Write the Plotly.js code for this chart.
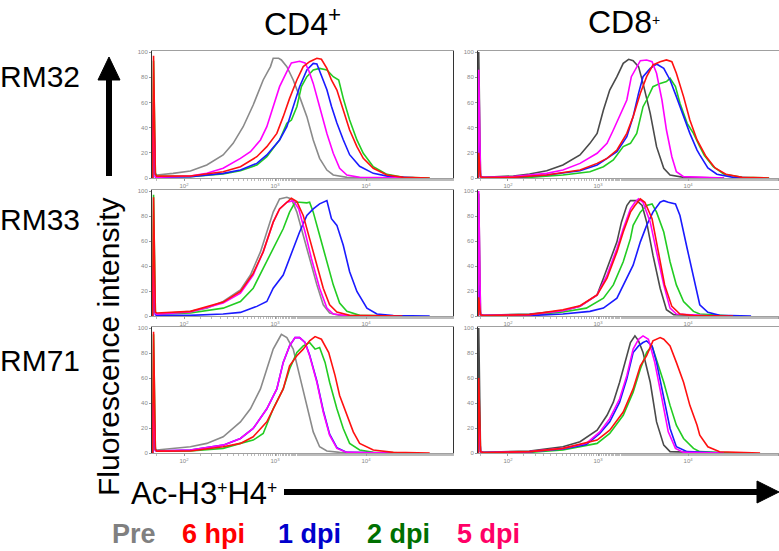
<!DOCTYPE html>
<html>
<head>
<meta charset="utf-8">
<script src="https://cdn.plot.ly/plotly-3.0.1.min.js"></script>
<style>html,body{margin:0;padding:0;background:#fff;}#chart{width:779px;height:551px;}</style>
</head>
<body>
<div id="chart"></div>
<script>
// ---- Data: x = log10(fluorescence), y = % of max ----
// Panel CD4 / RM32
const cd4_rm32_pre_x = [1.655,1.665,1.685,1.70,1.88,2.07,2.25,2.43,2.54,2.65,2.76,2.87,2.95,2.98,3.04,3.07,3.13,3.20,3.27,3.35,3.42,3.49,3.57,3.64,3.79,4.08,4.5];
const cd4_rm32_pre_y = [0,30,3,2.4,3.7,5.6,10.3,18.3,27.5,40.7,57.9,77.8,88.4,95.0,95.0,93.7,88.4,77.8,64.6,48.7,30.2,15.6,6.3,2.4,0.5,0,0];
const cd4_rm32_d5_x = [1.655,1.665,1.685,1.70,2.07,2.25,2.43,2.62,2.73,2.84,2.91,2.98,3.05,3.13,3.18,3.27,3.33,3.37,3.42,3.49,3.57,3.64,3.71,3.79,3.93,4.5];
const cd4_rm32_d5_y = [0,60,1,0.5,1.6,3.7,7.7,15.6,20.9,30.2,40.7,56.6,72.5,84.4,91.3,92.6,91.3,85.4,75.1,56.6,35.4,19.6,7.7,2.4,0.5,0];
const cd4_rm32_d1_x = [1.655,1.665,1.685,1.70,2.07,2.43,2.62,2.80,2.91,3.05,3.13,3.20,3.27,3.35,3.42,3.46,3.51,3.57,3.62,3.68,3.75,3.82,3.93,4.08,4.26,4.6];
const cd4_rm32_d1_y = [0,50,1,0.5,1.1,3.7,6.3,11.6,18.3,30.2,40.7,56.6,72.5,85.7,91.0,90.5,80.7,70.1,56.9,43.7,30.4,18.5,9.3,3.7,1.1,0];
const cd4_rm32_d2_x = [1.655,1.665,1.685,1.70,2.07,2.43,2.62,2.80,2.91,3.05,3.13,3.18,3.24,3.29,3.35,3.42,3.49,3.57,3.64,3.70,3.75,3.82,3.90,3.97,4.08,4.23,4.41,4.7];
const cd4_rm32_d2_y = [0,93,4,1.5,1.1,3.2,5.8,10.3,16.9,30.2,43.4,46.0,56.6,72.5,80.4,85.7,87.0,85.7,80.4,77.8,63.2,46.0,30.2,19.6,9.0,2.9,0.5,0];
const cd4_rm32_h6_x = [1.655,1.665,1.685,1.70,2.07,2.43,2.62,2.80,2.91,3.02,3.09,3.16,3.24,3.31,3.38,3.46,3.51,3.57,3.62,3.68,3.75,3.82,3.90,3.97,4.08,4.23,4.41,4.7];
const cd4_rm32_h6_y = [0,97,3,1.5,1.6,5.0,9.0,16.9,24.9,35.4,48.7,63.2,77.8,88.4,92.3,95.0,94.2,87.0,77.8,69.8,54.0,38.1,24.9,15.6,7.7,2.4,0.5,0];

// Panel CD8 / RM32
const cd8_rm32_pre_x = [1.668,1.675,1.695,1.73,2.06,2.24,2.43,2.61,2.80,2.91,2.99,3.06,3.13,3.21,3.28,3.34,3.39,3.45,3.50,3.58,3.65,3.73,3.80,3.95,4.4];
const cd8_rm32_pre_y = [0,100,1,0.5,1.6,3.2,5.8,10.3,18.3,27.5,35.4,54.0,69.8,80.4,91.0,94.2,93.1,88.4,75.1,51.3,24.9,7.7,2.4,0.5,0];
const cd8_rm32_d5_x = [1.668,1.675,1.695,1.73,2.06,2.43,2.61,2.80,2.99,3.10,3.17,3.24,3.32,3.37,3.43,3.47,3.54,3.60,3.65,3.71,3.76,3.82,3.87,3.95,4.4];
const cd8_rm32_d5_y = [0,86,1,0.5,1.1,3.7,6.3,11.6,19.6,27.5,38.1,48.7,61.9,80.4,88.4,93.1,93.7,92.3,83.1,61.9,38.1,16.9,5.0,1.1,0];
const cd8_rm32_d1_x = [1.668,1.675,1.695,1.73,2.06,2.43,2.80,2.99,3.10,3.21,3.32,3.39,3.45,3.50,3.58,3.65,3.73,3.80,3.87,3.95,4.02,4.10,4.13,4.22,4.32,4.5,4.8];
const cd8_rm32_d1_y = [0,37,1,0.3,0.5,2.4,5.8,10.3,15.6,20.9,32.8,48.7,67.2,80.4,87.0,90.5,87.0,77.8,64.6,48.7,35.4,22.2,18.3,8,3,0.5,0];
const cd8_rm32_d2_x = [1.668,1.675,1.695,1.73,2.24,2.61,2.91,3.06,3.17,3.28,3.36,3.43,3.50,3.54,3.61,3.69,3.76,3.80,3.86,3.91,3.99,4.06,4.13,4.18,4.28,4.4,4.6,4.9];
const cd8_rm32_d2_y = [0,20,1,0.3,0.5,2.4,5.0,9.0,14.3,24.9,27.5,35.4,56.6,61.9,72.5,75.1,76.5,79.1,72.5,59.3,43.4,35.4,24.9,18,9,3,0.5,0];
const cd8_rm32_h6_x = [1.668,1.675,1.695,1.73,2.06,2.43,2.80,2.99,3.10,3.21,3.32,3.39,3.47,3.54,3.61,3.69,3.76,3.82,3.87,3.95,4.02,4.10,4.20,4.30,4.42,4.6,4.9];
const cd8_rm32_h6_y = [0,20,1,0.3,0.5,2.4,6.3,11.6,15.6,22.2,35.4,48.7,67.2,80.4,89.7,92.3,93.7,92.3,83.1,64.6,46.0,30.2,17,8,3,0.5,0];

// Panel CD4 / RM33
const cd4_rm33_pre_x = [1.655,1.665,1.685,1.70,2.07,2.25,2.43,2.62,2.73,2.84,2.91,2.98,3.05,3.13,3.18,3.24,3.31,3.38,3.46,3.53,3.60,3.71,4.3];
const cd4_rm33_pre_y = [0,40,2,1.6,3.7,6.3,11.6,20.9,32.8,51.3,67.2,83.1,93.7,95.0,93.7,83.1,64.6,46.0,24.9,9.0,2.4,0.5,0];
const cd4_rm33_d5_x = [1.655,1.665,1.685,1.70,2.07,2.43,2.62,2.76,2.87,2.98,3.05,3.13,3.20,3.26,3.33,3.40,3.49,3.57,3.64,3.79,4.3];
const cd4_rm33_d5_y = [0,40,2,1.5,3.2,10.3,18.3,32.8,51.3,75.1,85.7,91.0,92.3,85.7,67.2,46.0,22.2,6.3,1.6,0.3,0];
const cd4_rm33_d1_x = [1.655,1.665,1.685,1.70,2.07,2.43,2.62,2.80,2.91,2.98,3.09,3.20,3.27,3.35,3.42,3.49,3.53,3.57,3.62,3.68,3.75,3.82,3.90,4.01,4.12,4.30,4.7];
const cd4_rm33_d1_y = [0,30,1,0.5,0.5,1.6,2.9,7.7,11.6,22.2,32.8,54.0,67.2,80.4,85.7,89.7,91.0,92.3,77.8,72.5,56.6,35.4,19.6,6.3,1.6,0.3,0];
const cd4_rm33_d2_x = [1.655,1.665,1.685,1.70,2.07,2.43,2.62,2.76,2.87,2.98,3.09,3.16,3.22,3.27,3.35,3.38,3.42,3.49,3.57,3.64,3.71,3.79,3.93,4.4];
const cd4_rm33_d2_y = [0,97,3,1.5,2.4,6.3,11.6,22.2,38.1,54.0,69.8,83.1,91.0,91.0,90.5,91.0,83.1,64.6,43.4,24.9,10.3,3.7,0.5,0];
const cd4_rm33_h6_x = [1.655,1.665,1.685,1.70,2.07,2.43,2.62,2.76,2.87,2.98,3.05,3.13,3.18,3.24,3.31,3.38,3.46,3.53,3.60,3.68,3.82,4.4];
const cd4_rm33_h6_y = [0,95,3,2.4,3.7,11.1,19.6,34.1,51.3,75.1,85.7,90.5,94.2,91.5,80.4,61.9,40.7,22.2,9.0,3.2,0.5,0];

// Panel CD8 / RM33
const cd8_rm33_pre_x = [1.668,1.675,1.695,1.73,2.24,2.61,2.80,2.99,3.06,3.13,3.21,3.26,3.32,3.36,3.43,3.49,3.54,3.61,3.69,3.76,3.84,4.3];
const cd8_rm33_pre_y = [0,98,1,0.5,1.6,4.2,7.7,16.9,30.2,43.4,59.3,75.1,88.4,92.3,92.3,88.4,75.1,48.7,22.2,5.0,1.1,0];
const cd8_rm33_d5_x = [1.668,1.675,1.695,1.73,2.24,2.61,2.80,2.99,3.10,3.21,3.28,3.36,3.41,3.45,3.50,3.58,3.65,3.73,3.80,3.87,4.3];
const cd8_rm33_d5_y = [0,100,1,0.5,1.1,4.2,7.7,16.9,32.8,54.0,69.8,85.7,91.0,93.7,91.0,75.1,51.3,24.9,6.3,1.6,0];
const cd8_rm33_d1_x = [1.668,1.675,1.695,1.73,2.24,2.61,2.91,3.06,3.21,3.32,3.39,3.47,3.54,3.61,3.69,3.73,3.78,3.86,3.91,3.99,4.06,4.13,4.22,4.35,4.7];
const cd8_rm33_d1_y = [0,25,1,0.3,0.3,1.6,3.7,6.3,14.3,30.2,40.7,59.3,72.5,83.1,91.0,92.3,91.0,89.7,80.4,54.0,30.2,9.0,3,0.5,0];
const cd8_rm33_d2_x = [1.668,1.675,1.695,1.73,2.24,2.61,2.87,3.06,3.17,3.28,3.36,3.39,3.47,3.54,3.60,3.65,3.73,3.80,3.87,3.95,4.06,4.13,4.5];
const cd8_rm33_d2_y = [0,15,1,0.3,0.5,3.2,6.3,14.3,24.9,43.4,61.9,72.5,83.1,88.4,89.7,83.1,67.2,43.4,24.9,11.6,3.7,1.6,0];
const cd8_rm33_h6_x = [1.668,1.675,1.695,1.73,2.24,2.61,2.80,2.99,3.10,3.21,3.28,3.36,3.41,3.47,3.52,3.60,3.67,3.74,3.82,3.91,4.06,4.5];
const cd8_rm33_h6_y = [0,15,1,0.3,1.1,5.0,8.2,16.9,30.2,51.3,67.2,83.1,88.4,93.7,91.0,77.8,51.3,24.9,7.7,1.6,0.3,0];

// Panel CD4 / RM71
const cd4_rm71_pre_x = [1.655,1.665,1.685,1.70,2.07,2.25,2.43,2.62,2.73,2.84,2.91,2.98,3.04,3.07,3.13,3.20,3.27,3.35,3.42,3.49,3.57,3.71,4.3];
const cd4_rm71_pre_y = [0,40,3,2.4,5.0,7.7,13.0,24.9,35.4,51.3,67.2,83.1,91.0,95.0,92.3,83.1,61.9,38.1,16.9,5.0,1.6,0.5,0];
const cd4_rm71_d1_x = [1.655,1.665,1.685,1.70,2.07,2.43,2.62,2.76,2.91,3.02,3.09,3.16,3.22,3.27,3.33,3.38,3.46,3.53,3.60,3.68,3.79,4.3];
const cd4_rm71_d1_y = [0,40,2,1.5,2.4,6.3,11.6,19.6,35.4,51.3,72.5,85.7,92.3,92.3,88.4,78.5,57.5,34.0,15.0,4.2,0.5,0];
const cd4_rm71_d5_x = [1.655,1.665,1.685,1.70,2.07,2.43,2.62,2.76,2.91,3.02,3.09,3.16,3.22,3.27,3.33,3.38,3.46,3.53,3.60,3.68,3.79,4.3];
const cd4_rm71_d5_y = [0,40,2,1.5,2.4,6.3,11.6,19.6,35.4,51.3,72.5,85.7,92.3,92.3,88.4,77.8,56.6,32.8,14.3,3.7,0.5,0];
const cd4_rm71_d2_x = [1.655,1.665,1.685,1.70,2.07,2.43,2.62,2.76,2.87,2.98,3.09,3.16,3.24,3.31,3.38,3.44,3.49,3.55,3.60,3.68,3.75,3.82,3.93,4.08,4.5];
const cd4_rm71_d2_y = [0,95,3,1.5,1.6,3.7,7.7,10.3,15.6,35.4,51.3,67.2,80.4,85.7,88.4,83.1,84.4,72.5,56.6,35.4,19.6,7.7,2.4,0.5,0];
const cd4_rm71_h6_x = [1.655,1.665,1.685,1.70,2.07,2.43,2.62,2.76,2.91,3.02,3.09,3.16,3.24,3.31,3.38,3.44,3.51,3.59,3.66,3.71,3.79,3.86,3.93,4.08,4.30,4.7];
const cd4_rm71_h6_y = [0,97,3,1.5,1.6,5.0,7.7,13.0,24.9,40.7,51.3,69.8,77.8,83.1,89.7,93.1,91.0,80.4,61.9,46.0,30.2,16.9,7.7,2.4,0.5,0];

// Panel CD8 / RM71
const cd8_rm71_pre_x = [1.668,1.675,1.695,1.73,2.24,2.61,2.80,2.99,3.10,3.17,3.24,3.32,3.36,3.41,3.45,3.50,3.58,3.65,3.73,3.80,4.3];
const cd8_rm71_pre_y = [0,100,1,0.5,1.6,5.0,9.0,18.3,30.2,40.7,56.6,77.8,88.4,93.7,89.7,80.4,56.6,24.9,6.3,1.1,0];
const cd8_rm71_d5_x = [1.668,1.675,1.695,1.73,2.24,2.61,2.87,3.02,3.13,3.24,3.32,3.39,3.45,3.50,3.56,3.63,3.71,3.78,3.86,3.95,4.4];
const cd8_rm71_d5_y = [0,30,1,0.3,1.1,3.7,7.7,16.9,27.5,43.4,61.9,83.1,91.0,93.7,91.0,72.5,43.4,16.9,3.7,0.5,0];
const cd8_rm71_d1_x = [1.668,1.675,1.695,1.73,2.24,2.61,2.87,3.02,3.13,3.24,3.32,3.39,3.45,3.50,3.54,3.60,3.65,3.73,3.80,3.87,3.99,4.4];
const cd8_rm71_d1_y = [0,30,1,0.3,1.1,3.2,6.9,15.6,24.9,40.7,59.3,80.4,85.7,88.4,89.7,85.7,72.5,43.4,19.6,5.0,1.1,0];
const cd8_rm71_d2_x = [1.668,1.675,1.695,1.73,2.24,2.61,2.99,3.13,3.28,3.39,3.47,3.54,3.60,3.65,3.73,3.80,3.87,3.95,4.06,4.13,4.5];
const cd8_rm71_d2_y = [0,30,1,0.3,0.5,2.4,7.7,15.6,30.2,48.7,67.2,80.4,85.7,75.1,56.6,38.1,22.2,11.6,3.7,1.1,0];
const cd8_rm71_h6_x = [1.668,1.675,1.695,1.73,2.24,2.61,2.99,3.13,3.28,3.39,3.47,3.54,3.61,3.69,3.73,3.80,3.87,3.95,4.02,4.10,4.13,4.22,4.35,4.8];
const cd8_rm71_h6_y = [0,60,1,0.3,1.1,3.7,10.3,18.3,32.8,51.3,69.8,77.8,89.7,92.3,91.0,85.7,72.5,56.6,38.1,22.2,14.3,5,1,0];

// Labels
const columns = ["CD4<sup>+</sup>", "CD8<span style=\"font-size:20px\"><sup>+</sup></span>"];
const rowsLbl = ["RM32", "RM33", "RM71"];
const xTitle = "Ac-H3<span style=\"font-size:25px\"><sup>+</sup></span>H4<span style=\"font-size:25px\"><sup>+</sup></span>";
const yTitle = "Fluorescence intensity";
const legendLabels = ["Pre", "6 hpi", "1 dpi", "2 dpi", "5 dpi"];
const legendColors = ["#808080", "#ff0000", "#0000cc", "#007000", "#ff0066"];
const xTickVals = [100, 1000, 10000, 100000];
const xTickText = ["10<sup>2</sup>", "10<sup>3</sup>", "10<sup>4</sup>", "10<sup>5</sup>"];
const yTickVals = [0, 20, 40, 60, 80, 100];

// ---- Layout ----
const W = 779, H = 551;
const FONT = "Liberation Sans, Arial, sans-serif";
const colPx = [[152, 453], [478, 779]];
const rowPx = [[51, 178], [190, 316], [327, 453]];
const xRanges = [[1.648, 4.956], [1.667, 5.01]];
const curveColors = {
  pre: ["#8a8a8a", "#4a4a4a"],
  d2: "#22cc22", d1: "#1a1aff", d5: "#ff00ff", h6: "#ff1010"
};

const panelData = [
  [ // row RM32
    {pre:[cd4_rm32_pre_x,cd4_rm32_pre_y], d2:[cd4_rm32_d2_x,cd4_rm32_d2_y], d1:[cd4_rm32_d1_x,cd4_rm32_d1_y], d5:[cd4_rm32_d5_x,cd4_rm32_d5_y], h6:[cd4_rm32_h6_x,cd4_rm32_h6_y]},
    {pre:[cd8_rm32_pre_x,cd8_rm32_pre_y], d2:[cd8_rm32_d2_x,cd8_rm32_d2_y], d1:[cd8_rm32_d1_x,cd8_rm32_d1_y], d5:[cd8_rm32_d5_x,cd8_rm32_d5_y], h6:[cd8_rm32_h6_x,cd8_rm32_h6_y]}
  ],
  [ // row RM33
    {pre:[cd4_rm33_pre_x,cd4_rm33_pre_y], d2:[cd4_rm33_d2_x,cd4_rm33_d2_y], d1:[cd4_rm33_d1_x,cd4_rm33_d1_y], d5:[cd4_rm33_d5_x,cd4_rm33_d5_y], h6:[cd4_rm33_h6_x,cd4_rm33_h6_y]},
    {pre:[cd8_rm33_pre_x,cd8_rm33_pre_y], d2:[cd8_rm33_d2_x,cd8_rm33_d2_y], d1:[cd8_rm33_d1_x,cd8_rm33_d1_y], d5:[cd8_rm33_d5_x,cd8_rm33_d5_y], h6:[cd8_rm33_h6_x,cd8_rm33_h6_y]}
  ],
  [ // row RM71
    {pre:[cd4_rm71_pre_x,cd4_rm71_pre_y], d2:[cd4_rm71_d2_x,cd4_rm71_d2_y], d1:[cd4_rm71_d1_x,cd4_rm71_d1_y], d5:[cd4_rm71_d5_x,cd4_rm71_d5_y], h6:[cd4_rm71_h6_x,cd4_rm71_h6_y]},
    {pre:[cd8_rm71_pre_x,cd8_rm71_pre_y], d2:[cd8_rm71_d2_x,cd8_rm71_d2_y], d1:[cd8_rm71_d1_x,cd8_rm71_d1_y], d5:[cd8_rm71_d5_x,cd8_rm71_d5_y], h6:[cd8_rm71_h6_x,cd8_rm71_h6_y]}
  ]
];

const traces = [];
const layout = {
  width: W, height: H,
  margin: {l: 0, r: 0, t: 0, b: 0},
  paper_bgcolor: "#ffffff", plot_bgcolor: "#ffffff",
  showlegend: false,
  font: {family: FONT, color: "#000"},
  annotations: [], shapes: []
};
const px2x = p => p / W;
const px2y = p => 1 - p / H;

let idx = 0;
for (let r = 0; r < 3; r++) {
  for (let c = 0; c < 2; c++) {
    idx++;
    const sfx = idx === 1 ? "" : String(idx);
    const xa = "x" + sfx, ya = "y" + sfx;
    layout["xaxis" + sfx] = {
      type: "log", range: xRanges[c],
      domain: [px2x(colPx[c][0]), px2x(colPx[c][1])],
      anchor: ya, showgrid: false, zeroline: false,
      showline: true, mirror: true, linecolor: "#a0a0a0", linewidth: 1,
      ticks: "outside", ticklen: 2, tickcolor: "#999",
      tickvals: xTickVals, ticktext: xTickText,
      tickfont: {size: 6, color: "#888"},
      minor: {ticks: "outside", ticklen: 1.5, tickcolor: "#bbb", showgrid: false}
    };
    layout["yaxis" + sfx] = {
      range: [0, 100.8],
      domain: [px2y(rowPx[r][1]), px2y(rowPx[r][0])],
      anchor: xa, showgrid: false, zeroline: false,
      showline: true, mirror: true, linecolor: "#333", linewidth: 1,
      ticks: "outside", ticklen: 2, tickcolor: "#999",
      tickvals: yTickVals, tickfont: {size: 6, color: "#888"}
    };
    const pd = panelData[r][c];
    const order = ["pre", "d2", "d1", "d5", "h6"];
    order.forEach(k => {
      const col = k === "pre" ? curveColors.pre[c] : curveColors[k];
      traces.push({
        type: "scatter", mode: "lines",
        x: pd[k][0].map(v => Math.pow(10, v)), y: pd[k][1],
        xaxis: xa, yaxis: ya,
        line: {color: col, width: 1.6},
        hoverinfo: "skip", cliponaxis: true
      });
    });
  }
}

// Column titles
layout.annotations.push({text: columns[0], xref: "paper", yref: "paper", x: px2x(262), y: px2y(22),
  xanchor: "left", yanchor: "middle", showarrow: false, font: {size: 32, family: FONT}});
layout.annotations.push({text: columns[1], xref: "paper", yref: "paper", x: px2x(586), y: px2y(22),
  xanchor: "left", yanchor: "middle", showarrow: false, font: {size: 32, family: FONT}});
// Row labels
const rowCenters = [76, 220, 360];
rowsLbl.forEach((t, i) => layout.annotations.push({text: t, xref: "paper", yref: "paper",
  x: px2x(-2), y: px2y(rowCenters[i]), xanchor: "left", yanchor: "middle", showarrow: false,
  font: {size: 30, family: FONT}}));
// Y title
layout.annotations.push({text: yTitle, xref: "paper", yref: "paper",
  x: px2x(108), y: px2y(347), xanchor: "center", yanchor: "middle", textangle: -90, showarrow: false,
  font: {size: 30, family: FONT}});
// X title
layout.annotations.push({text: xTitle, xref: "paper", yref: "paper",
  x: px2x(129), y: px2y(493), xanchor: "left", yanchor: "middle", showarrow: false,
  font: {size: 31, family: FONT}});
// Legend text
const legX = [110, 180, 276, 365, 455];
legendLabels.forEach((t, i) => layout.annotations.push({text: "<b>" + t + "</b>", xref: "paper", yref: "paper",
  x: px2x(legX[i]), y: px2y(534), xanchor: "left", yanchor: "middle", showarrow: false,
  font: {size: 27, family: FONT, color: legendColors[i]}}));

// Arrows (decorations)
const P = (x, y) => px2x(x).toFixed(5) + "," + px2y(y).toFixed(5);
layout.shapes.push({type: "line", xref: "paper", yref: "paper", x0: px2x(109), x1: px2x(109), y0: px2y(176), y1: px2y(76),
  line: {color: "#000", width: 6}});
layout.shapes.push({type: "path", xref: "paper", yref: "paper", path: "M" + P(98, 80) + " L" + P(120, 80) + " L" + P(109, 57) + " Z",
  fillcolor: "#000", line: {color: "#000", width: 1}});
layout.shapes.push({type: "line", xref: "paper", yref: "paper", x0: px2x(284), x1: px2x(762), y0: px2y(492), y1: px2y(492),
  line: {color: "#000", width: 6}});
layout.shapes.push({type: "path", xref: "paper", yref: "paper", path: "M" + P(757, 481) + " L" + P(757, 503) + " L" + P(779, 492) + " Z",
  fillcolor: "#000", line: {color: "#000", width: 1}});

Plotly.newPlot("chart", traces, layout, {staticPlot: true, displayModeBar: false});
</script>
</body>
</html>
